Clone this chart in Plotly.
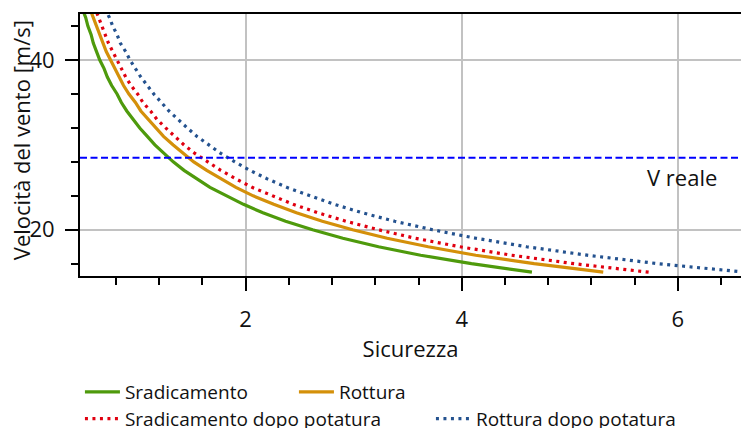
import plotly.graph_objects as go

# Wind speed levels [m/s] at which the safety factor was evaluated
velocita = [15, 16, 17, 18, 19, 20, 21, 22, 23, 24, 25, 26, 27, 28, 29, 30,
            31, 32, 33, 34, 35, 36, 37, 38, 39, 40, 41, 42, 43, 44, 45, 46]

# Safety factor for each scenario
sradicamento = [4.65, 4.09, 3.62, 3.23, 2.90, 2.62, 2.37, 2.16, 1.98, 1.82, 1.67, 1.55,
                1.43, 1.33, 1.24, 1.16, 1.09, 1.02, 0.96, 0.90, 0.85, 0.81, 0.76, 0.72,
                0.69, 0.65, 0.62, 0.59, 0.57, 0.54, 0.52, 0.49]
rottura = [5.31, 4.67, 4.13, 3.69, 3.31, 2.99, 2.71, 2.47, 2.26, 2.07, 1.91, 1.77,
           1.64, 1.52, 1.42, 1.33, 1.24, 1.17, 1.10, 1.03, 0.98, 0.92, 0.87, 0.83,
           0.79, 0.75, 0.71, 0.68, 0.65, 0.62, 0.59, 0.56]
sradicamento_potatura = [5.73, 5.04, 4.46, 3.98, 3.57, 3.23, 2.93, 2.67, 2.44, 2.24, 2.06, 1.91,
                         1.77, 1.65, 1.53, 1.43, 1.34, 1.26, 1.18, 1.12, 1.05, 1.00, 0.94, 0.89,
                         0.85, 0.81, 0.77, 0.73, 0.70, 0.67, 0.64, 0.61]
rottura_potatura = [6.62, 5.82, 5.16, 4.60, 4.13, 3.73, 3.38, 3.08, 2.82, 2.59, 2.38, 2.20,
                    2.04, 1.90, 1.77, 1.66, 1.55, 1.46, 1.37, 1.29, 1.22, 1.15, 1.09, 1.03,
                    0.98, 0.93, 0.89, 0.84, 0.81, 0.77, 0.74, 0.70]

# Measured wind speed on site
v_reale = 28.5

FONT = "Open Sans"

fig = go.Figure()

series = [
    ("Sradicamento", sradicamento, "#4e9a0c", "solid", "legend"),
    ("Rottura", rottura, "#d4900a", "solid", "legend"),
    ("Sradicamento dopo potatura", sradicamento_potatura, "#e00010", "3px,4.5px", "legend2"),
    ("Rottura dopo potatura", rottura_potatura, "#24528f", "3px,4.5px", "legend2"),
]
for name, vals, color, dash, leg in series:
    fig.add_trace(go.Scatter(
        x=vals, y=velocita, mode="lines", name=name,
        line=dict(color=color, width=3.2, dash=dash),
        legend=leg,
    ))

# Reference line for the real wind speed
fig.add_hline(y=v_reale, line=dict(color="#0000ff", width=2, dash="7px,3.5px"), layer="above")
fig.add_annotation(x=6.04, y=26.2, xref="x", yref="y", text="V reale", showarrow=False,
                   font=dict(family=FONT, size=22, color="#111111"))

# Y-axis title
fig.add_annotation(x=-0.088, y=0.052, xref="paper", yref="paper", xanchor="center",
                   yanchor="bottom", textangle=-90, text="Velocità del vento [m/s]",
                   showarrow=False, font=dict(family=FONT, size=22, color="#111111"))

axis_common = dict(
    showline=True, linecolor="black", linewidth=2,
    ticks="outside", ticklen=13, tickwidth=2, tickcolor="black",
    showgrid=True, gridcolor="#c2c2c2", gridwidth=1.6,
    zeroline=False,
    tickfont=dict(family=FONT, size=22, color="#111111"),
)

fig.update_xaxes(
    range=[0.467, 6.585], tickvals=[2, 4, 6], mirror=True,
    minor=dict(dtick=0.4, tick0=0, ticks="outside", ticklen=7, tickwidth=2,
               tickcolor="black", showgrid=False),
    title=dict(text="Sicurezza", font=dict(family=FONT, size=22, color="#111111"), standoff=8),
    ticklabelstandoff=10,
    **axis_common,
)
fig.update_yaxes(
    range=[14.55, 45.43], tickvals=[20, 40], mirror=False,
    minor=dict(dtick=4, tick0=0, ticks="outside", ticklen=7, tickwidth=2,
               tickcolor="black", showgrid=False),
    ticklabelstandoff=6,
    **axis_common,
)

legend_common = dict(
    orientation="h", x=-0.0001, xanchor="left", yanchor="middle",
    font=dict(family=FONT, size=19, color="#111111"),
    bgcolor="rgba(0,0,0,0)", entrywidthmode="pixels", itemwidth=35,
)

fig.update_layout(
    width=741, height=428,
    margin=dict(l=80, r=0, t=14, b=152, autoexpand=False),
    plot_bgcolor="white", paper_bgcolor="white",
    font=dict(family=FONT, color="#111111"),
    legend=dict(y=-0.443, entrywidth=164, **legend_common),
    legend2=dict(y=-0.545, entrywidth=301, **legend_common),
    showlegend=True,
)

fig.write_html("out.html")
